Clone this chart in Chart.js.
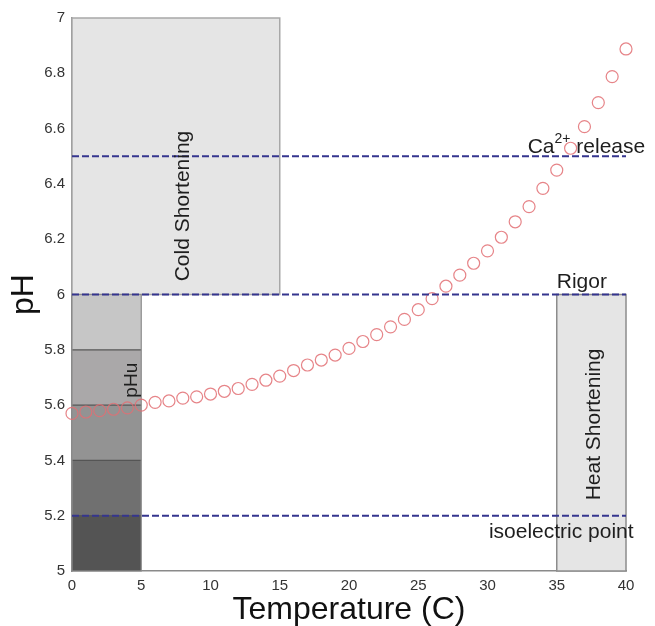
<!DOCTYPE html>
<html>
<head>
<meta charset="utf-8">
<script src="https://cdn.jsdelivr.net/npm/chart.js@4.4.0/dist/chart.umd.min.js"></script>
<style>
  html, body { margin: 0; padding: 0; background: #fff; }
  #wrap { width: 655px; height: 626px; }
</style>
</head>
<body>
<div id="wrap"><canvas id="chart"></canvas></div>
<script>
// data
const temps = [0, 1, 2, 3, 4, 5, 6, 7, 8, 9, 10, 11, 12, 13, 14, 15, 16, 17, 18, 19, 20,
               21, 22, 23, 24, 25, 26, 27, 28, 29, 30, 31, 32, 33, 34, 35, 36, 37, 38, 39, 40];
const phValues = [5.57, 5.575, 5.58, 5.585, 5.59, 5.60, 5.61, 5.615, 5.625, 5.63, 5.64,
                  5.65, 5.66, 5.675, 5.69, 5.705, 5.725, 5.745, 5.763, 5.781, 5.805,
                  5.83, 5.855, 5.883, 5.91, 5.945, 5.985, 6.03, 6.07, 6.113, 6.158,
                  6.207, 6.263, 6.318, 6.384, 6.45, 6.529, 6.607, 6.694, 6.788, 6.888];
const xTicks = [0, 5, 10, 15, 20, 25, 30, 35, 40];
const yTicks = [5, 5.2, 5.4, 5.6, 5.8, 6, 6.2, 6.4, 6.6, 6.8, 7];
const thresholds = [6.5, 6.0, 5.2];          // Ca2+ release, Rigor, isoelectric point
const coldZone = [0, 15, 6, 7];              // x0, x1, y0, y1
const heatZone = [35, 40, 5, 6];
const phuTemp = [0, 5];
const phuLevels = [5, 5.2, 5.4, 5.6, 5.8, 6];
const phuShades = ['#545454', '#707070', '#939393', '#aaa8a9', '#c6c6c6'];

const labelFont = '21px "Liberation Sans", Arial, sans-serif';

const zonesPlugin = {
  id: 'zones',
  beforeDatasetsDraw(chart) {
    const { ctx, scales: { x, y } } = chart;
    const box = (x0, x1, y0, y1, fill, stroke) => {
      const l = x.getPixelForValue(x0), r = x.getPixelForValue(x1);
      const t = y.getPixelForValue(y1), b = y.getPixelForValue(y0);
      ctx.fillStyle = fill;
      ctx.fillRect(l, t, r - l, b - t);
      if (stroke) {
        ctx.strokeStyle = stroke;
        ctx.lineWidth = 1.5;
        ctx.strokeRect(l, t, r - l, b - t);
      }
    };
    ctx.save();
    box(...coldZone, '#e5e5e5', '#a8a8a8');
    box(...heatZone, '#e5e5e5', '#8c8c8c');
    for (let i = 0; i < phuShades.length; i++) {
      box(phuTemp[0], phuTemp[1], phuLevels[i], phuLevels[i + 1], phuShades[i], null);
    }
    // band separators
    ctx.strokeStyle = '#555';
    ctx.lineWidth = 1.2;
    for (let i = 1; i < phuLevels.length - 1; i++) {
      const py = y.getPixelForValue(phuLevels[i]);
      ctx.beginPath();
      ctx.moveTo(x.getPixelForValue(phuTemp[0]), py);
      ctx.lineTo(x.getPixelForValue(phuTemp[1]), py);
      ctx.stroke();
    }
    ctx.strokeStyle = '#8c8c8c';
    ctx.strokeRect(x.getPixelForValue(phuTemp[0]), y.getPixelForValue(6),
      x.getPixelForValue(phuTemp[1]) - x.getPixelForValue(phuTemp[0]),
      y.getPixelForValue(5) - y.getPixelForValue(6));
    ctx.restore();
  },
  afterDatasetsDraw(chart) {
    const { ctx, scales: { x, y } } = chart;
    ctx.save();
    ctx.fillStyle = '#1e1e1e';
    ctx.font = labelFont;
    ctx.textBaseline = 'middle';
    ctx.textAlign = 'center';
    const vertical = (text, tx, ty, font) => {
      ctx.save();
      ctx.translate(x.getPixelForValue(tx), y.getPixelForValue(ty));
      ctx.rotate(-Math.PI / 2);
      if (font) ctx.font = font;
      ctx.fillText(text, 0, 0);
      ctx.restore();
    };
    vertical('Cold Shortening', 8.0, 6.32);
    vertical('Heat Shortening', 37.7, 5.53);
    vertical('pHu', 4.3, 5.69, '19px "Liberation Sans", Arial, sans-serif');

    ctx.textAlign = 'left';
    ctx.textBaseline = 'alphabetic';
    // Ca2+ release
    let px = x.getPixelForValue(32.9), py = y.getPixelForValue(6.512);
    ctx.fillText('Ca', px, py);
    px += ctx.measureText('Ca').width;
    ctx.font = '14px "Liberation Sans", Arial, sans-serif';
    ctx.fillText('2+', px, py - 10);
    px += ctx.measureText('2+').width;
    ctx.font = labelFont;
    ctx.fillText(' release', px, py);
    ctx.fillText('Rigor', x.getPixelForValue(35.0), y.getPixelForValue(6.023));
    ctx.fillText('isoelectric point', x.getPixelForValue(30.1), y.getPixelForValue(5.119));
    ctx.restore();
  }
};

const lineSets = thresholds.map(v => ({
  type: 'line',
  data: [{ x: 0, y: v }, { x: 40, y: v }],
  borderColor: '#35358e',
  borderWidth: 2,
  borderDash: [7, 3],
  pointRadius: 0,
  fill: false
}));

new Chart(document.getElementById('chart'), {
  type: 'scatter',
  data: {
    datasets: [
      ...lineSets,
      {
        data: temps.map((t, i) => ({ x: t, y: phValues[i] })),
        pointStyle: 'circle',
        pointRadius: 6,
        pointBorderWidth: 1.2,
        pointBorderColor: 'rgba(226, 110, 115, 0.85)',
        pointBackgroundColor: 'rgba(0,0,0,0)',
        showLine: false,
        clip: false
      }
    ]
  },
  options: {
    responsive: true,
    maintainAspectRatio: false,
    animation: false,
    layout: { padding: { top: 18, right: 29, left: 0, bottom: 0 } },
    plugins: { legend: { display: false }, tooltip: { enabled: false } },
    scales: {
      x: {
        type: 'linear',
        min: 0,
        max: 40,
        afterBuildTicks: s => { s.ticks = xTicks.map(v => ({ value: v })); },
        afterFit: s => { s.height = 55; },
        grid: { display: true, drawOnChartArea: false, drawTicks: false, color: '#888' },
        border: { color: '#8a8a8a', width: 1.5 },
        ticks: { color: '#333', padding: 6, font: { size: 15, family: '"Liberation Sans", Arial, sans-serif' } },
        title: {
          display: true,
          text: 'Temperature (C)',
          color: '#111',
          padding: 0,
          font: { size: 32, lineHeight: 1.0, family: '"Liberation Sans", Arial, sans-serif' }
        }
      },
      y: {
        type: 'linear',
        min: 5,
        max: 7,
        afterBuildTicks: s => { s.ticks = yTicks.map(v => ({ value: v })); },
        afterFit: s => { s.width = 72; },
        grid: { display: true, drawOnChartArea: false, drawTicks: false, color: '#888' },
        border: { color: '#8a8a8a', width: 1.5 },
        ticks: {
          color: '#333',
          padding: 7,
          font: { size: 15, family: '"Liberation Sans", Arial, sans-serif' },
          callback: v => String(Number(v.toFixed(1)))
        },
        title: {
          display: true,
          text: 'pH',
          color: '#111',
          padding: { top: 5, bottom: 0 },
          font: { size: 32, family: '"Liberation Sans", Arial, sans-serif' }
        }
      }
    }
  },
  plugins: [zonesPlugin]
});
</script>
</body>
</html>
